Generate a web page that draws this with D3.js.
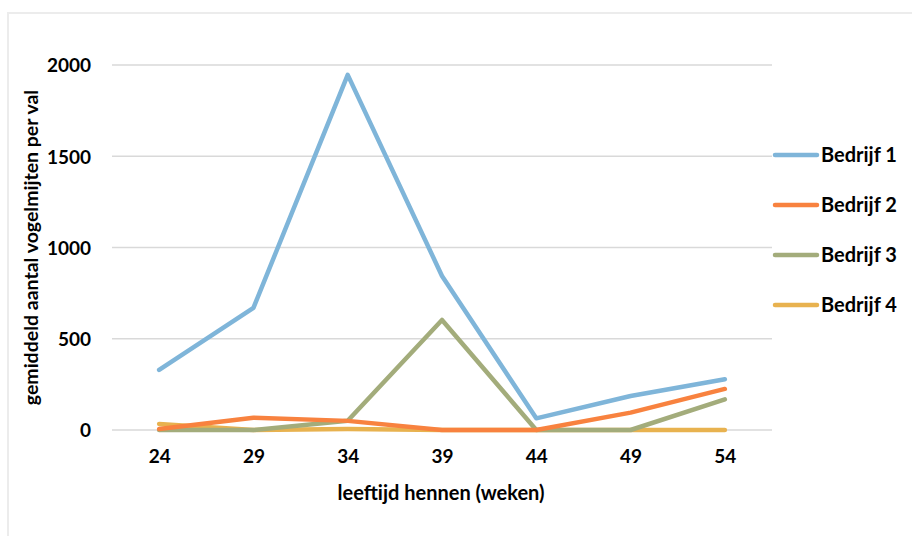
<!DOCTYPE html>
<html>
<head>
<meta charset="utf-8">
<script src="https://cdn.jsdelivr.net/npm/d3@7"></script>
<style>
  body { margin: 0; background: #fff; }
  svg { display: block; }
</style>
</head>
<body>
<svg id="chart"></svg>
<script>
const weeks = ['24', '29', '34', '39', '44', '49', '54']
const bedrijf1 = [329, 669, 1946, 844, 64, 186, 278]
const bedrijf2 = [5, 67, 50, 0, 0, 95, 225]
const bedrijf3 = [0, 0, 51, 603, 0, 0, 168]
const bedrijf4 = [33, 0, 5, 0, 0, 0, 0]
const seriesNames = ['Bedrijf 1', 'Bedrijf 2', 'Bedrijf 3', 'Bedrijf 4']
const yTicks = [0, 500, 1000, 1500, 2000]

const width = 912
const height = 536
const colors = ['#7fb5d9', '#f8823f', '#a3ac7b', '#e8b24f']
const font = 'Lato, "Open Sans", sans-serif'

const svg = d3.select('#chart').attr('width', width).attr('height', height)

// outer frame (only left and top visible)
svg.append('rect')
  .attr('x', 8).attr('y', 13)
  .attr('width', width + 10).attr('height', height + 10)
  .attr('fill', '#fff')
  .attr('stroke', '#ececec')
  .attr('stroke-width', 2)

const plot = { left: 112, right: 772, top: 65, bottom: 430 }

const x = d3.scalePoint()
  .domain(weeks)
  .range([plot.left, plot.right])
  .padding(0.5)

const y = d3.scaleLinear()
  .domain([0, 2000])
  .range([plot.bottom, plot.top])

// gridlines
svg.append('g')
  .selectAll('line')
  .data(yTicks)
  .join('line')
  .attr('x1', plot.left).attr('x2', plot.right)
  .attr('y1', (d) => y(d)).attr('y2', (d) => y(d))
  .attr('stroke', '#d9d9d9')
  .attr('stroke-width', 1.3)

// y axis labels
const yAxis = svg.append('g')
  .attr('transform', `translate(${plot.left - 21},0)`)
  .call(d3.axisLeft(y).tickValues(yTicks).tickFormat(d3.format('d')).tickSize(0).tickPadding(0))
yAxis.select('.domain').remove()
yAxis.selectAll('text')
  .attr('font-family', font).attr('font-size', 19).attr('font-weight', 'bold')
  .attr('fill', '#000')
  .attr('dy', '0.36em')

// x axis labels
const xAxis = svg.append('g')
  .attr('transform', `translate(0,${plot.bottom})`)
  .call(d3.axisBottom(x).tickSize(0).tickPadding(0))
xAxis.select('.domain').remove()
xAxis.selectAll('text')
  .attr('font-family', font).attr('font-size', 19).attr('font-weight', 'bold')
  .attr('fill', '#000')
  .attr('y', 33).attr('dy', 0)

// axis titles
svg.append('text')
  .attr('x', (plot.left + plot.right) / 2 - 1)
  .attr('y', 500)
  .attr('text-anchor', 'middle')
  .attr('font-family', font).attr('font-size', 20).attr('font-weight', 'bold')
  .text('leeftijd hennen (weken)')

svg.append('text')
  .attr('transform', `translate(38,${(plot.top + plot.bottom) / 2}) rotate(-90)`)
  .attr('text-anchor', 'middle')
  .attr('font-family', font).attr('font-size', 19.5).attr('font-weight', 'bold')
  .text('gemiddeld aantal vogelmijten per val')

// lines
const series = [bedrijf1, bedrijf2, bedrijf3, bedrijf4]
const line = d3.line()
  .x((d, i) => x(weeks[i]))
  .y((d) => y(d))

svg.append('g')
  .selectAll('path')
  .data(series.map((s, i) => ({ values: s, i })).reverse())
  .join('path')
  .attr('d', (d) => line(d.values))
  .attr('fill', 'none')
  .attr('stroke', (d) => colors[d.i])
  .attr('stroke-width', 4.5)
  .attr('stroke-linejoin', 'round')
  .attr('stroke-linecap', 'round')

// legend
const legend = svg.append('g')
  .selectAll('g')
  .data(seriesNames)
  .join('g')
  .attr('transform', (d, i) => `translate(775,${155 + i * 50})`)

legend.append('line')
  .attr('x1', 0).attr('x2', 42)
  .attr('stroke', (d, i) => colors[i])
  .attr('stroke-width', 4.5)
  .attr('stroke-linecap', 'round')

legend.append('text')
  .attr('x', 46)
  .attr('dy', '0.36em')
  .attr('font-family', font).attr('font-size', 20).attr('font-weight', 'bold')
  .text((d) => d)
</script>
</body>
</html>
